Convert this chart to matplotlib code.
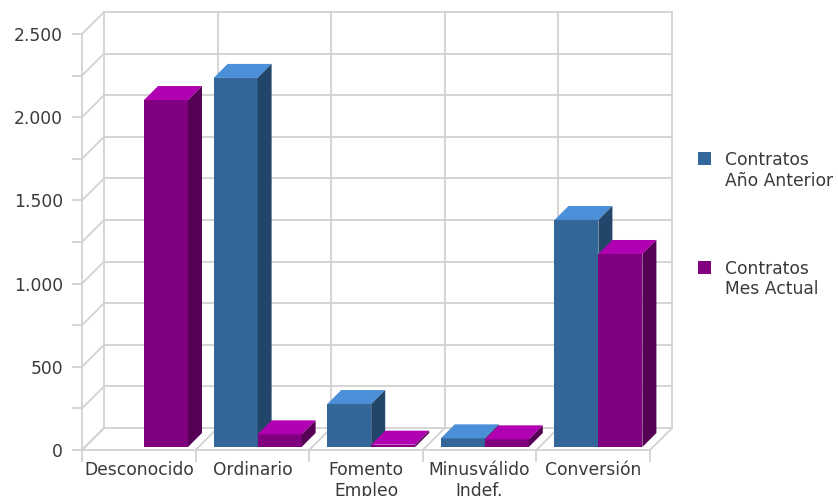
import matplotlib
matplotlib.use("Agg")
import matplotlib.pyplot as plt
from matplotlib.patches import Polygon, Rectangle
import numpy as np

# ---------------- data ----------------
categories = ["Desconocido", "Ordinario", "Fomento\nEmpleo", "Minusválido\nIndef.", "Conversión"]
anio_anterior = [0, 2218, 258, 52, 1364]
mes_actual = [2085, 76, 14, 46, 1160]
series_names = ["Contratos\nAño Anterior", "Contratos\nMes Actual"]
y_ticks = [0, 500, 1000, 1500, 2000, 2500]
y_tick_labels = ["0", "500", "1.000", "1.500", "2.000", "2.500"]

# ---------------- style ----------------
front_cols = ["#336699", "#800080"]
top_cols = ["#4a8fd8", "#b100b1"]
side_cols = ["#224669", "#560056"]
grid = "#d2d2d2"
txt = "#3a3a3a"
fs = 12.3
lw = 1.3

W, H = 838, 496
fig = plt.figure(figsize=(W / 100, H / 100), dpi=100)
ax_l, ax_b, ax_w, ax_h = 82, 46, 568, 416
ax = fig.add_axes([ax_l / W, ax_b / H, ax_w / W, ax_h / H])
n = len(categories)
ymax = 2500
ax.set_xlim(0, n)
ax.set_ylim(0, ymax)

px_x = ax_w / n
px_y = ax_h / ymax


def dx(px):
    return px / px_x


def dy(px):
    return px / px_y


# ---------------- walls ----------------
wdx, wdy = dx(22), dy(22)
kw = dict(color=grid, lw=lw, clip_on=False, zorder=1, solid_capstyle="projecting")
levels = np.arange(0, ymax + 1, 250)
for v in levels:
    ax.plot([wdx, n + wdx], [v + wdy, v + wdy], **kw)
    ax.plot([0, wdx], [v, v + wdy], **kw)
for i in range(n + 1):
    ax.plot([i + wdx, i + wdx], [wdy, ymax + wdy], **kw)
    ax.plot([i, i + wdx], [0, wdy], **kw)

for side in ["top", "right"]:
    ax.spines[side].set_visible(False)
for side in ["left", "bottom"]:
    ax.spines[side].set_color(grid)
    ax.spines[side].set_linewidth(lw)
    ax.spines[side].set_zorder(1)

ax.set_yticks(y_ticks)
ax.set_yticklabels(y_tick_labels)
ax.set_yticks(levels, minor=True)
ax.tick_params(axis="y", which="both", length=7.2, width=lw, color=grid,
               labelsize=fs, labelcolor=txt, pad=6.5)
ax.set_xticks(range(n + 1))
ax.set_xticklabels([])
ax.set_xticks(np.arange(n) + 0.5, minor=True)
ax.set_xticklabels(categories, minor=True)
ax.tick_params(axis="x", which="major", length=8.6, width=lw, color=grid)
ax.tick_params(axis="x", which="minor", length=0, labelsize=fs, labelcolor=txt, pad=8)
ax.patch.set_visible(False)

# ---------------- bars ----------------
bar_w = dx(44)
first_off = dx(18)
bdx, bdy = dx(14), dy(14)
base = dy(3)
z = 3
for i in range(n):
    for s, vals in enumerate([anio_anterior, mes_actual]):
        v = vals[i]
        if v <= 0:
            continue
        L = i + first_off + s * bar_w
        R = L + bar_w
        T = base + v
        B = base
        ax.add_patch(Rectangle((L, B), bar_w, v, facecolor=front_cols[s],
                               edgecolor="none", clip_on=False, zorder=z))
        ax.add_patch(Polygon([(L, T), (R, T), (R + bdx, T + bdy), (L + bdx, T + bdy)],
                             closed=True, facecolor=top_cols[s], edgecolor="none",
                             clip_on=False, zorder=z))
        ax.add_patch(Polygon([(R, B), (R, T), (R + bdx, T + bdy), (R + bdx, B + bdy)],
                             closed=True, facecolor=side_cols[s], edgecolor="none",
                             clip_on=False, zorder=z))
        z += 1

# ---------------- legend ----------------
leg_x = 698
sq = 13
leg_tops = [152, 261]
for s, name in enumerate(series_names):
    top = leg_tops[s]
    fig.patches.append(Rectangle((leg_x / W, (H - top - sq) / H), sq / W, sq / H,
                                 transform=fig.transFigure, facecolor=front_cols[s],
                                 edgecolor="none"))
    for k, line in enumerate(name.split("\n")):
        base_y = top + sq + k * 20.5
        fig.text(725 / W, (H - base_y) / H, line, fontsize=fs, color=txt,
                 ha="left", va="baseline")

fig.savefig("out.png", dpi=100)
